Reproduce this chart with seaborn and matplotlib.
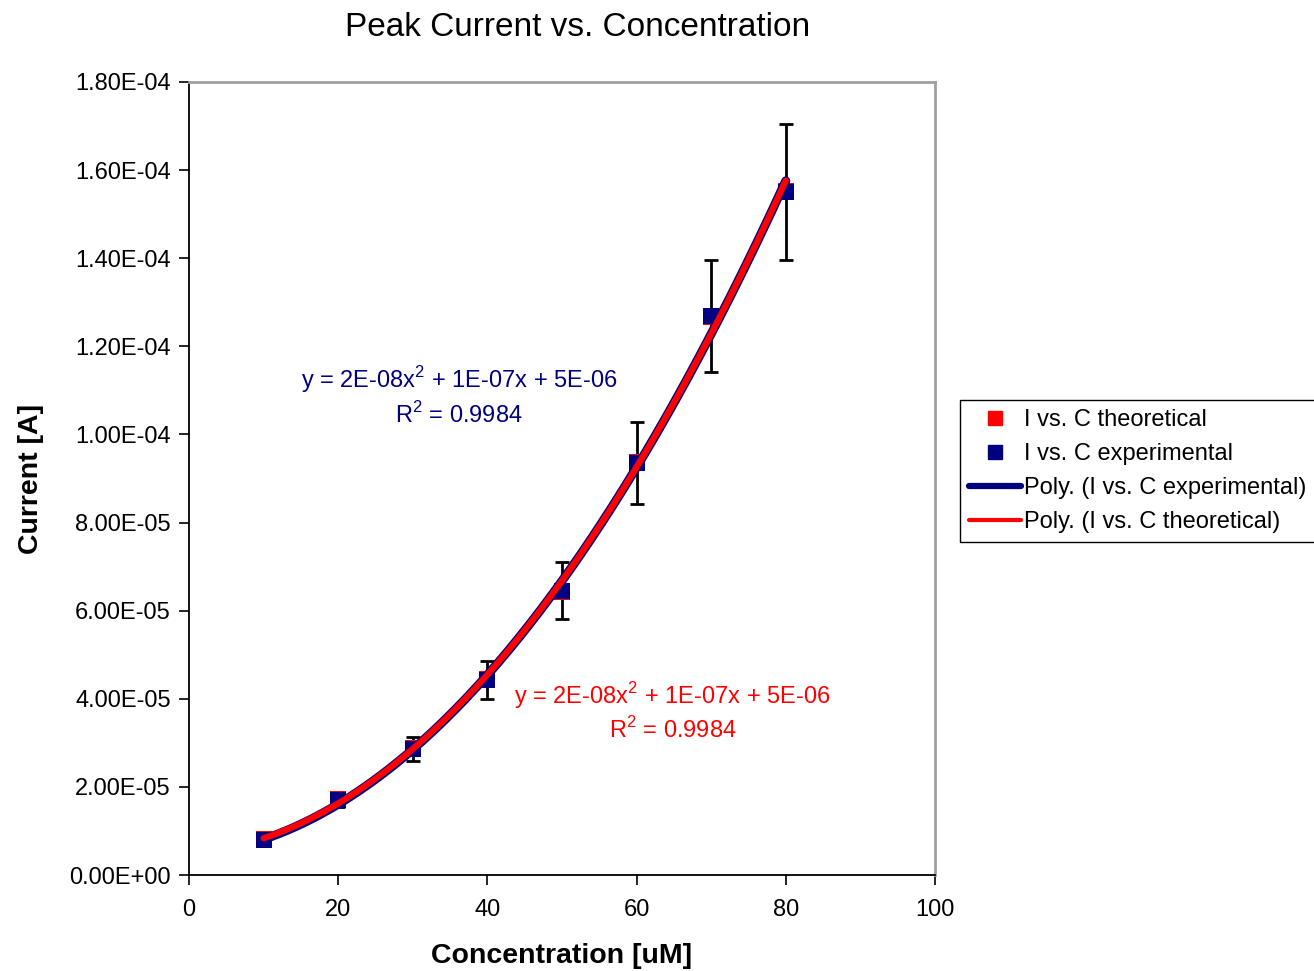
import numpy as np
import pandas as pd
import matplotlib
matplotlib.use("Agg")
import matplotlib.pyplot as plt
import seaborn as sns
from matplotlib.ticker import FuncFormatter, MultipleLocator
from matplotlib.lines import Line2D

# ---- data ----
conc = [10, 20, 30, 40, 50, 60, 70, 80]
i_exp = [8.0e-6, 17.0e-6, 28.6e-6, 44.3e-6, 64.5e-6, 93.5e-6, 126.9e-6, 155.0e-6]
i_err = [0.8e-6, 1.5e-6, 2.8e-6, 4.3e-6, 6.5e-6, 9.3e-6, 12.7e-6, 15.5e-6]
i_theo = [8.1e-6, 17.2e-6, 28.9e-6, 44.6e-6, 64.2e-6, 93.7e-6, 126.6e-6, 155.3e-6]

title = "Peak Current vs. Concentration"
xlabel = "Concentration [uM]"
ylabel = "Current [A]"
eq_exp = "y = 2E-08x$^{2}$ + 1E-07x + 5E-06\nR$^{2}$ = 0.9984"
eq_theo = "y = 2E-08x$^{2}$ + 1E-07x + 5E-06\nR$^{2}$ = 0.9984"
legend_labels = ["I vs. C theoretical", "I vs. C experimental",
                 "Poly. (I vs. C experimental)", "Poly. (I vs. C theoretical)"]

NAVY = "#000080"
RED = "#FF0000"

sns.set_theme(style="white")
plt.rcParams['font.family'] = ['Liberation Sans', 'DejaVu Sans']
plt.rcParams['mathtext.fontset'] = 'custom'
plt.rcParams['mathtext.rm'] = 'Liberation Sans'
plt.rcParams['text.color'] = 'black'
plt.rcParams['axes.labelcolor'] = 'black'
plt.rcParams['xtick.color'] = 'black'
plt.rcParams['ytick.color'] = 'black'

df = pd.DataFrame({"conc": conc, "exp": i_exp, "err": i_err, "theo": i_theo})

# polynomial trendlines (2nd order), like the spreadsheet
xs = np.linspace(min(conc), max(conc), 200)
fit_exp = np.polyval(np.polyfit(df["conc"], df["exp"], 2), xs)
fit_theo = np.polyval(np.polyfit(df["conc"], df["theo"], 2), xs)
fits = pd.DataFrame({"x": xs, "fexp": fit_exp, "ftheo": fit_theo})

fig = plt.figure(figsize=(13.14, 9.71), dpi=100)
ax = fig.add_axes([189/1314, 1-875/971, 746/1314, 793/971])

sns.scatterplot(data=df, x="conc", y="theo", marker="s", s=140, color=RED,
                edgecolor=RED, linewidth=0, ax=ax, zorder=3)
ax.errorbar(df["conc"], df["exp"], yerr=df["err"], fmt="none", ecolor="black",
            elinewidth=2, capsize=4.8, capthick=2, zorder=2)
sns.scatterplot(data=df, x="conc", y="exp", marker="s", s=140, color=NAVY,
                edgecolor=NAVY, linewidth=0, ax=ax, zorder=4)
sns.lineplot(data=fits, x="x", y="fexp", color=NAVY, linewidth=6.5, ax=ax, zorder=5)
sns.lineplot(data=fits, x="x", y="ftheo", color=RED, linewidth=4.5, ax=ax, zorder=6)

ax.set_xlim(0, 100)
ax.set_ylim(0, 1.8e-4)
ax.xaxis.set_major_locator(MultipleLocator(20))
ax.yaxis.set_major_locator(MultipleLocator(2e-5))
ax.yaxis.set_major_formatter(FuncFormatter(lambda v, p: f"{v:.2E}"))
ax.tick_params(axis="both", which="major", direction="out", length=7, width=1.2,
               color="black", labelcolor="black", labelsize=17, pad=6,
               bottom=True, left=True)
ax.tick_params(axis="x", pad=10)

for s in ["left", "bottom"]:
    ax.spines[s].set_color("black")
    ax.spines[s].set_linewidth(1.3)
for s in ["top", "right"]:
    ax.spines[s].set_color("#a0a0a0")
    ax.spines[s].set_linewidth(2)

ax.set_xlabel(xlabel, fontsize=20.5, fontweight="bold", labelpad=16, color="black")
ax.set_ylabel(ylabel, fontsize=20.5, fontweight="bold", labelpad=18, color="black")
fig.text(578/1314, 1-28/971, title, ha="center", va="center", fontsize=24,
         color="black")

ax.text(36.2, 1.087e-4, eq_exp, color=NAVY, fontsize=17, ha="center", va="center",
        linespacing=1.3)
ax.text(64.8, 3.71e-5, eq_theo, color=RED, fontsize=17, ha="center", va="center",
        linespacing=1.3)

handles = [
    Line2D([], [], marker="s", color=RED, linestyle="none", markersize=10),
    Line2D([], [], marker="s", color=NAVY, linestyle="none", markersize=10),
    Line2D([], [], color=NAVY, linewidth=4.5),
    Line2D([], [], color=RED, linewidth=3),
]
leg = fig.legend(handles, legend_labels, loc="upper left",
                 bbox_to_anchor=(960/1314, 1-400/971), fontsize=17,
                 frameon=True, fancybox=False, shadow=False, framealpha=1,
                 edgecolor="black", handlelength=2.2, handletextpad=0.1,
                 borderaxespad=0, borderpad=0.4, labelspacing=0.5)
leg.get_frame().set_linewidth(1.0)
for t in leg.get_texts():
    t.set_color("black")

fig.savefig("out.png", dpi=100)
